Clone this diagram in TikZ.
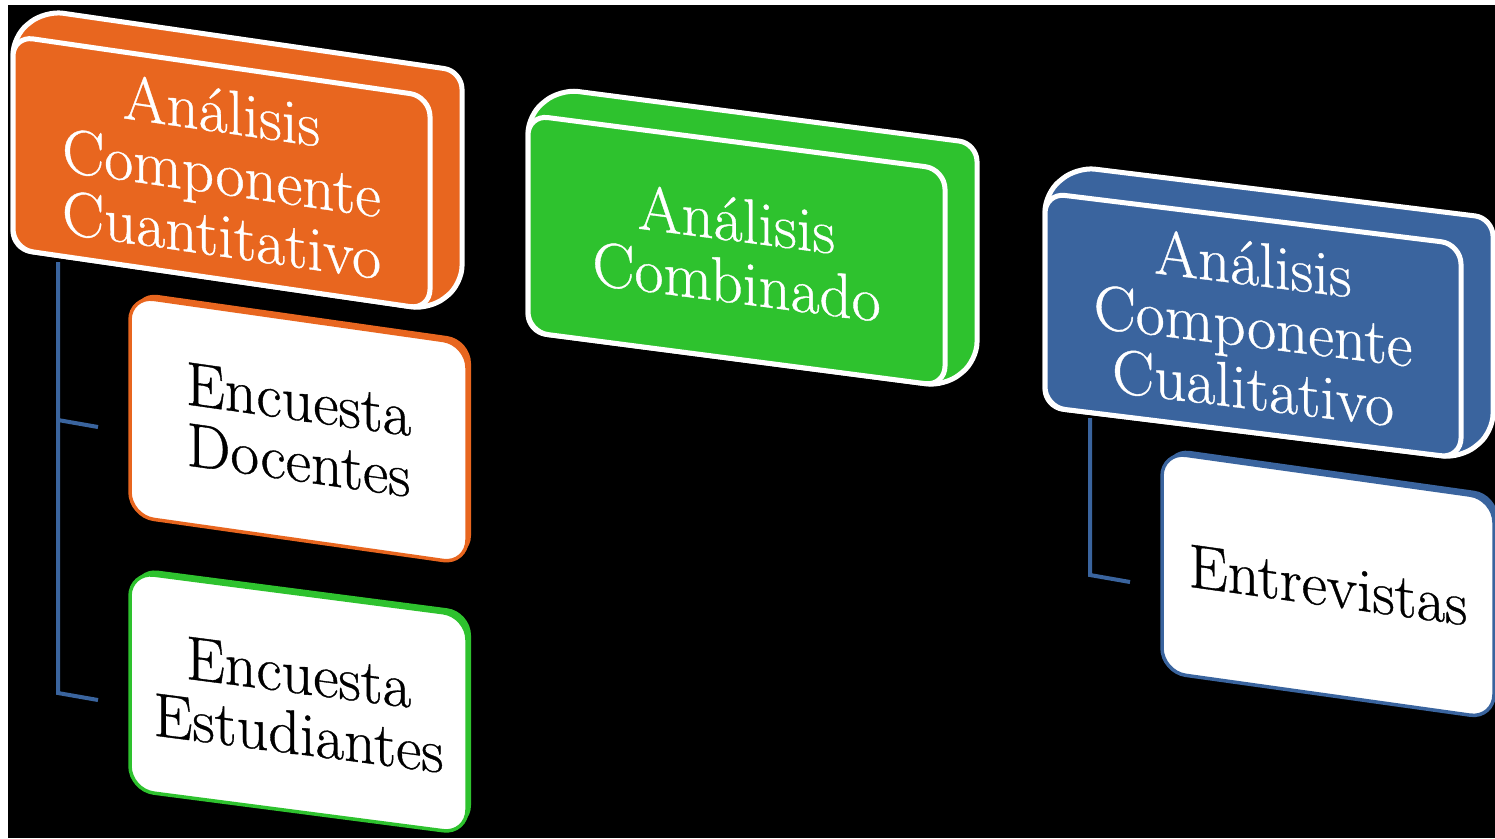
\documentclass[tikz,border=0pt]{standalone}
\usepackage{fontspec}
\newfontfamily\boxfont{Latin Modern Roman}[FakeBold=0.6]
\definecolor{corange}{HTML}{E8661F}
\definecolor{cgreen}{HTML}{2EC22E}
\definecolor{cblue}{HTML}{3A649E}
\newcommand{\cboxdraw}[8]{%
\begin{scope}[shift={(#1,#2)}, cm={1,-#3,0,1,(0,0)}]
 \path[hull, fill=#6] (0,0) -- (32,-30) -- (#4+32,-30) -- (#4+32,#5-30) -- (#4,#5) -- (0,#5) -- cycle;
 \path[front, fill=#6] (0,0) rectangle (#4,#5);
 \node[ctext] (#7) at (#4/2,#5/2) {#8};
\end{scope}}
\newcommand{\wboxdraw}[8]{%
\begin{scope}[shift={(#1,#2)}, cm={1,-#3,0,1,(0,0)}]
 \path[fill=#6,rounded corners=24pt] (4,-5) rectangle (#4+4,#5-5);
 \path[fill=white,draw=#6,line width=3.5pt,rounded corners=24pt] (0,0) rectangle (#4,#5);
 \node[wtext] (#7) at (#4/2,#5/2) {#8};
\end{scope}}
\begin{document}
\begin{tikzpicture}[x=1pt,y=-1pt,
  hull/.style={draw=white,line width=5pt,rounded corners=18pt,line join=round},
  front/.style={draw=white,line width=5pt,rounded corners=20pt},
  ctext/.style={text=white,align=center,inner sep=0pt,transform shape,font=\boxfont\fontsize{63}{62}\selectfont},
  wtext/.style={text=black,align=center,inner sep=0pt,transform shape,font=\boxfont\fontsize{62}{61}\selectfont},
  conn/.style={draw=cblue,line width=4pt},
]
\useasboundingbox (0,0) rectangle (1495,838);
\fill[white] (0,0) rectangle (1495,838);
\fill[black] (8,5) rectangle (1495,838);
% connectors
\coordinate (q0) at (58,262);
\coordinate (q1) at (58,420);
\coordinate (q2) at (98,427);
\coordinate (q3) at (58,693);
\coordinate (q4) at (98,700);
\coordinate (r0) at (1090,418);
\coordinate (r1) at (1090,575);
\coordinate (r2) at (1130,582);
\draw[conn] (q0) -- (q3) -- (q4);
\draw[conn] (q1) -- (q2);
\draw[conn] (r0) -- (r1) -- (r2);
% colored boxes
\cboxdraw{13}{36}{0.145}{417}{213}{corange}{A}{Análisis\\Componente\\Cuantitativo}
\cboxdraw{528}{115}{0.13}{417}{217}{cgreen}{B}{Análisis\\Combinado}
\cboxdraw{1045}{193}{0.123}{416}{214}{cblue}{C}{Análisis\\Componente\\Cualitativo}
% white boxes
\wboxdraw{130}{296}{0.142}{337}{220}{corange}{D}{Encuesta\\Docentes}
\wboxdraw{130}{572}{0.13}{337}{218}{cgreen}{E}{Encuesta\\Estudiantes}
\wboxdraw{1162}{452}{0.14}{332}{220}{cblue}{F}{Entrevistas}
\end{tikzpicture}
\end{document}
